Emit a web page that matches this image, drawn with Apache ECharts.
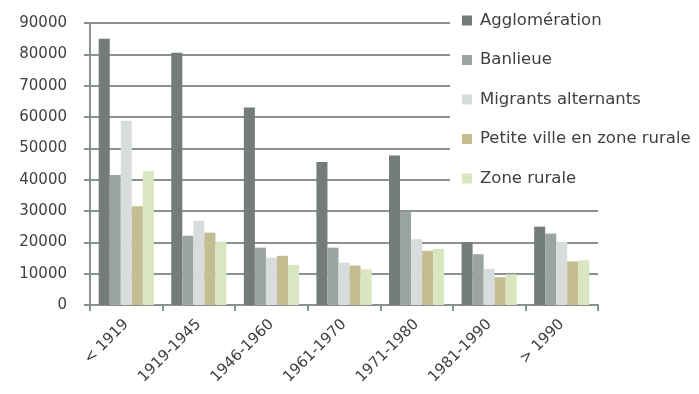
<!DOCTYPE html>
<html lang="fr">
<head>
    <meta charset="UTF-8">
    <title>Logements par période</title>
    <script src="https://cdn.jsdelivr.net/npm/echarts@6/dist/echarts.min.js"></script>
    <style>
        html, body { margin: 0; padding: 0; background: #fff; }
        #chart { width: 699px; height: 394px; }
    </style>
</head>
<body>
<div id="chart"></div>
<script>
    var periodes = ['< 1919', '1919-1945', '1946-1960', '1961-1970', '1971-1980', '1981-1990', '> 1990']
    var agglomeration = [85000, 80500, 63000, 45600, 47700, 20000, 25000]
    var banlieue = [41500, 22100, 18300, 18300, 29800, 16200, 22800]
    var migrants = [58800, 26900, 15100, 13500, 21000, 11500, 20100]
    var petiteVille = [31500, 23100, 15700, 12600, 17300, 8900, 13900]
    var zoneRurale = [42800, 20200, 12800, 11400, 17900, 9800, 14300]

    var noms = ['Agglomération', 'Banlieue', 'Migrants alternants', 'Petite ville en zone rurale', 'Zone rurale']
    var couleurs = ['#737c79', '#9ba4a2', '#d8dcdd', '#c3bd91', '#d9e6bf']
    var valeurs = [agglomeration, banlieue, migrants, petiteVille, zoneRurale]

    var police = '"DejaVu Sans", "Open Sans", sans-serif'
    var gris = '#8a9290'

    var series = []
    for (let i = 0; i < noms.length; i++) {
        series.push({
            name: noms[i],
            type: 'bar',
            data: valeurs[i],
            barGap: '0%',
            barCategoryGap: '24%',
            itemStyle: { color: couleurs[i] },
            z: 2
        })
    }

    var myChart = echarts.init(document.getElementById('chart'))
    var option = {
        animation: false,
        color: couleurs,
        grid: { left: 90, right: 101, top: 23, bottom: 89, containLabel: false },
        legend: {
            orient: 'vertical',
            left: 450,
            top: 0,
            padding: [12, 4, 14, 12],
            backgroundColor: '#fff',
            itemWidth: 10,
            itemHeight: 10,
            itemGap: 22.5,
            icon: 'rect',
            z: 10,
            textStyle: { fontFamily: police, fontSize: 16.5, color: '#404040', lineHeight: 16, padding: [0, 0, 0, 3] },
            data: noms
        },
        xAxis: {
            type: 'category',
            data: periodes,
            axisLine: { lineStyle: { color: gris, width: 2 } },
            axisTick: { show: true, length: 6, lineStyle: { color: gris, width: 2 } },
            axisLabel: { rotate: 45, margin: 17, fontFamily: police, fontSize: 15, color: '#404040' }
        },
        yAxis: {
            type: 'value',
            min: 0,
            max: 90000,
            interval: 10000,
            axisLine: { show: true, lineStyle: { color: gris, width: 2 } },
            axisTick: { show: true, length: 6, lineStyle: { color: gris, width: 2 } },
            splitLine: { lineStyle: { color: gris, width: 2 } },
            axisLabel: {
                margin: 23,
                fontFamily: police,
                fontSize: 15,
                color: '#404040',
                formatter: function (v) { return String(v) }
            }
        },
        series: series
    }
    myChart.setOption(option)
</script>
</body>
</html>
